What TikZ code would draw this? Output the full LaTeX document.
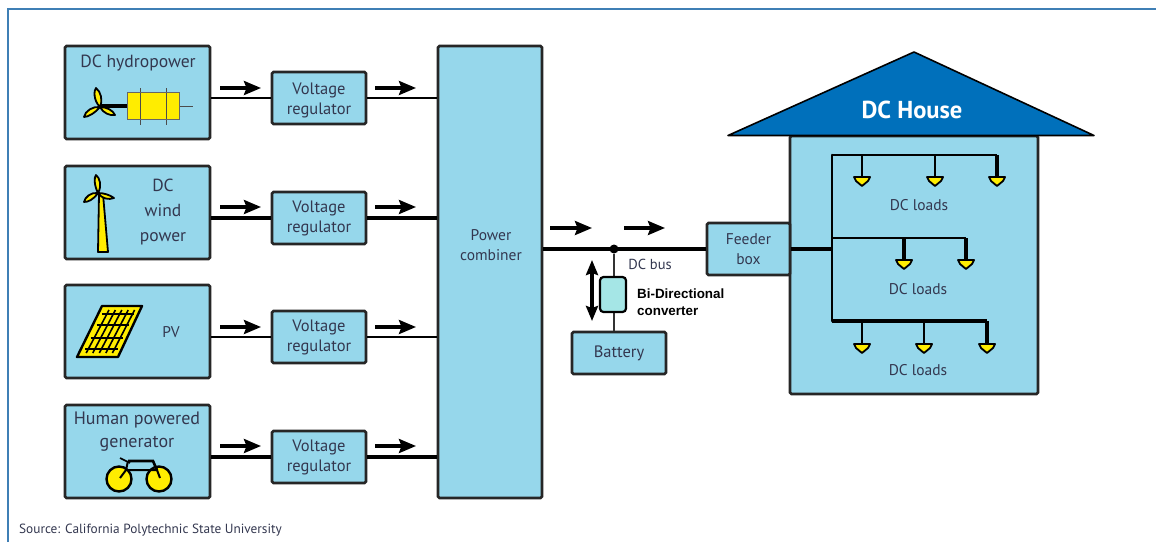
\documentclass[tikz,border=0pt]{standalone}
\usepackage{fontspec}
\setmainfont{PT Sans}
\newfontfamily\bifont{Liberation Sans}
\usetikzlibrary{arrows.meta,calc}
\definecolor{boxblue}{HTML}{96D7EB}
\definecolor{roofblue}{HTML}{0070BB}
\definecolor{sunyellow}{HTML}{FFED00}
\definecolor{convfill}{HTML}{A5E6E6}
\definecolor{inktext}{HTML}{33374F}
\definecolor{framec}{HTML}{3F7FB5}
\tikzset{
  x=1pt,y=-1pt,
  bluebox/.style={draw=black!85,fill=boxblue,line width=2.6pt,rounded corners=1.5pt,inner sep=0pt,font=\fontsize{15.5}{20}\selectfont,text=inktext,align=center},
  srcbox/.style={bluebox,minimum width=145pt,minimum height=93pt},
  regbox/.style={bluebox,minimum width=94pt,minimum height=52pt,font=\fontsize{16.5}{20}\selectfont},
  lbl/.style={font=\fontsize{15.5}{20}\selectfont,text=inktext,align=center,inner sep=0pt},
  wire/.style={line width=2.6pt,draw=black},
  thickwire/.style={line width=3.8pt,draw=black},
  flow/.style={line width=3.2pt,-{Stealth[length=17pt,width=14pt,inset=2.5pt]}},
  blade/.style={draw=black,fill=sunyellow,line width=1.8pt,line join=round},
  lampshape/.style={draw=black,fill=sunyellow,line width=1.8pt,line join=round}
}
\newcommand{\lampat}[1]{\draw[lampshape] ($(#1)+(-8,1)$) -- ($(#1)+(8,1)$) -- ($(#1)+(6,5)$) -- ($(#1)+(0,10)$) -- ($(#1)+(-6,5)$) -- cycle;}
\begin{document}
\begin{tikzpicture}
\useasboundingbox (0,0) rectangle (1156,542);
\draw[framec,line width=1.5pt] (8,542) -- (8,9) -- (1156,9);

% boxes
\node[srcbox] (src1) at (137.5,92.5) {};
\node[srcbox] (src2) at (137.5,212.5) {};
\node[srcbox] (src3) at (137.5,331.5) {};
\node[srcbox] (src4) at (137.5,451.5) {};
\node[regbox,text depth=0pt] (reg1) at (319,98) {\raisebox{-1pt}{Voltage}\\\raisebox{-1pt}{regulator}};
\node[regbox] (reg2) at (319,218) {\raisebox{-1pt}{Voltage}\\\raisebox{-1pt}{regulator}};
\node[regbox] (reg3) at (319,337) {\raisebox{-1pt}{Voltage}\\\raisebox{-1pt}{regulator}};
\node[regbox] (reg4) at (319,457) {\raisebox{-1pt}{Voltage}\\\raisebox{-1pt}{regulator}};
\node[bluebox,minimum width=104pt,minimum height=452pt] (comb) at (490,272) {};
\node[bluebox,minimum width=94pt,minimum height=42pt,font=\fontsize{16.5}{20}\selectfont] (batt) at (619,353) {Battery};
\node[bluebox,minimum width=248pt,minimum height=258pt] (house) at (914,265) {};
\node[bluebox,minimum width=83pt,minimum height=52pt] (feeder) at (748.5,249) {Feeder\\box};

% labels
\node[lbl,font=\fontsize{17.6}{20}\selectfont] (t1) at (138,63) {DC hydropower};
\node[lbl,font=\fontsize{17.5}{25}\selectfont] (t2) at (163,212.5) {DC\\wind\\power};
\node[lbl] (t3) at (171,332) {PV};
\node[lbl,font=\fontsize{18}{23}\selectfont] (t4) at (137,431.5) {Human powered\\generator};
\node[lbl] (t5) at (491,245) {Power\\combiner};
\node[lbl,font=\fontsize{14.5}{18}\selectfont] (t6) at (650,264) {DC bus};
\node[lbl] (t7) at (919,205) {DC loads};
\node[lbl] (t8) at (918,289) {DC loads};
\node[lbl] (t9) at (918,370) {DC loads};
\node[lbl,font=\fontsize{13.3}{16}\selectfont] (t10) at (150.5,530) {Source: California Polytechnic State University};

% roof
\coordinate (rl) at (728,135.5);
\coordinate (ra) at (914,52);
\coordinate (rr) at (1094,135.5);
\draw[fill=roofblue,draw=black,line width=1.6pt,line join=round] (rl) -- (ra) -- (rr) -- cycle;
\node[inner sep=0pt,text=white,font=\fontsize{24.5}{28}\selectfont\bfseries] (title) at (912,110) {DC House};

% source wires
\draw[wire] (reg1.west -| src1.east) -- (reg1.west);
\draw[thickwire] (reg2.west -| src2.east) -- (reg2.west);
\draw[wire] (reg3.west -| src3.east) -- (reg3.west);
\draw[thickwire] (reg4.west -| src4.east) -- (reg4.west);
\draw[wire] (reg1.east) -- (reg1.east -| comb.west);
\draw[thickwire] (reg2.east) -- (reg2.east -| comb.west);
\draw[wire] (reg3.east) -- (reg3.east -| comb.west);
\draw[thickwire] (reg4.east) -- (reg4.east -| comb.west);

% flow arrows
\foreach \y [count=\i] in {88,207,327,446}{
  \coordinate (fa\i) at (220,\y); \coordinate (fb\i) at (261,\y);
  \coordinate (fc\i) at (375,\y); \coordinate (fd\i) at (416,\y);
  \draw[flow] (fa\i) -- (fb\i);
  \draw[flow] (fc\i) -- (fd\i);
}
\coordinate (ga) at (550,228); \coordinate (gb) at (592,228);
\coordinate (gc) at (624,228); \coordinate (gd) at (665,228);
\draw[flow] (ga) -- (gb);
\draw[flow] (gc) -- (gd);

% bus and battery branch
\draw[thickwire] (comb.east |- feeder.west) -- (feeder.west);
\node[circle,fill=black,minimum size=9pt,inner sep=0pt] (dot) at (614,249) {};
\draw[line width=2pt,black!80] (dot) -- (dot |- batt.north);
\node[draw=black,fill=convfill,line width=2.2pt,rounded corners=3.5pt,minimum width=26pt,minimum height=35pt,inner sep=0pt] (conv) at (613,294.5) {};
\coordinate (ba) at (592,260); \coordinate (bb) at (592,321);
\draw[line width=3.2pt,{Stealth[length=15pt,width=12pt,inset=2pt]}-{Stealth[length=15pt,width=12pt,inset=2pt]}] (ba) -- (bb);
\node[anchor=west,inner sep=0pt,align=left,font=\bifont\bfseries\fontsize{13.4}{17}\selectfont] (bi) at (637,302.5) {Bi-Directional\\converter};

% house wiring
\coordinate (j0) at (832,249);
\coordinate (j1) at (832,155);
\coordinate (j2) at (832,238);
\coordinate (j3) at (832,321);
\coordinate (e1) at (997,155);
\coordinate (e2) at (966,238);
\coordinate (e3) at (987,321);
\draw[thickwire] (feeder.east) -- (j0);
\draw[wire,line cap=round] (j1) -- (j3);
\draw[wire] (j1) -- (e1);
\draw[wire] (j2) -- (e2);
\draw[thickwire] (j3) -- (e3);
\foreach \n/\x/\y/\ys/\w in {a/862/155/176/2.4,b/935/155/176/2.4,c/997/155/176/3.6,
                             d/904/238/259/3.6,e/966/238/259/3.6,
                             f/862/321/343/2.4,g/924/321/343/2.4,h/987/321/343/3.6}{
  \coordinate (top\n) at (\x,\y);
  \coordinate (lamp\n) at (\x,\ys);
  \draw[line width=\w pt] (top\n) -- (lamp\n);
  \lampat{lamp\n}
}

% hydro icon
\draw[line width=3.6pt] (100,106) -- (128,106);
\draw[blade] (100,107) .. controls (93,100) and (94,90) .. (96,88) .. controls (101,92) and (103,100) .. (100,107) -- cycle;
\draw[blade] (100,107) .. controls (95,113) and (88,117) .. (84,117) .. controls (85,111) and (93,106) .. (100,107) -- cycle;
\draw[blade] (100,107) .. controls (106,107) and (113,110) .. (115,115) .. controls (110,116) and (103,113) .. (100,107) -- cycle;
\fill[sunyellow] (127,92) rectangle (179,119);
\draw[line width=.8pt,black!70] (179,106) -- (193,106);
\draw[line width=.9pt,black!70] (140,88) -- (140,125);
\draw[line width=.9pt,black!70] (166,88) -- (166,125);
\draw[line width=.6pt,black!60] (127,92) rectangle (179,119);

% wind icon
\draw[blade] (99,194) -- (103,194) -- (108,252) -- (98,252) -- cycle;
\draw[blade] (98,193) .. controls (94,185) and (94,177) .. (96,175) .. controls (100,178) and (102,186) .. (98,193) -- cycle;
\draw[blade] (98,193) .. controls (93,200) and (88,202) .. (84,202) .. controls (85,197) and (91,192) .. (98,193) -- cycle;
\draw[blade] (98,193) .. controls (104,193) and (110,195) .. (114,198) .. controls (109,200) and (102,199) .. (98,193) -- cycle;

% PV icon
\draw[blade,line width=2.4pt] (102,306) -- (142,306) -- (118,357) -- (77,357) -- cycle;
\foreach \t in {.16,.38,.62,.84}{
  \draw[line width=2.2pt] ($(102,306)!\t!(77,357)+(4,0)$) -- ($(142,306)!\t!(118,357)+(-4,0)$);
}
\foreach \s in {.2,.36,.52,.68,.84}{
  \draw[line width=1.6pt] ($(102,306)!\s!(142,306)+(-1,4)$) -- ($(77,357)!\s!(118,357)+(1,-4)$);
}

% bicycle icon
\draw[line width=2.4pt,fill=sunyellow] (119,479) circle (12.5);
\draw[line width=2.4pt,fill=sunyellow] (159,479) circle (12.5);
\draw[line width=2pt] (120,478) -- (126,470) -- (157,470) -- (160,478);
\draw[line width=2.6pt] (128,461) -- (153,461) -- (157,470);
\draw[line width=2pt] (128,461) -- (126,470);
\draw[line width=1.6pt] (120,458) -- (130,463);
\end{tikzpicture}
\end{document}
